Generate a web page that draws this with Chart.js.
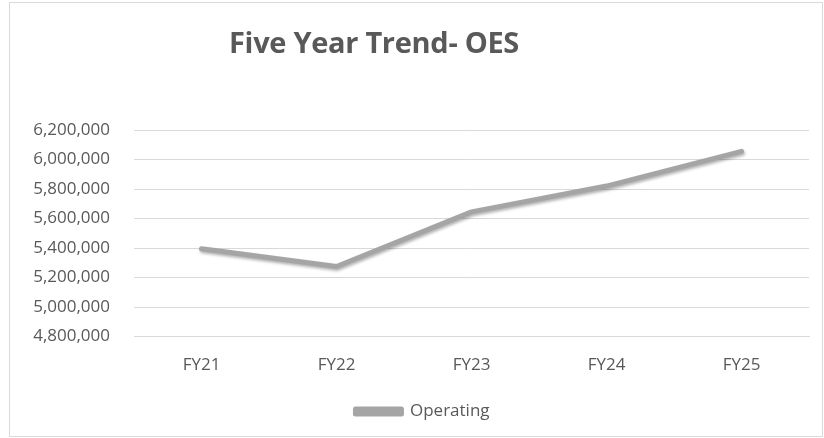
<!DOCTYPE html>
<html>
<head>
<meta charset="utf-8">
<script src="https://cdn.jsdelivr.net/npm/chart.js@4/dist/chart.umd.min.js"></script>
<style>
  html, body { margin: 0; padding: 0; background: #ffffff; }
  #wrap { position: relative; width: 824px; height: 438px; }
  #title {
    position: absolute; left: 229px; top: 22px;
    font-family: "Open Sans", "Liberation Sans", sans-serif;
    font-weight: bold; font-size: 29px; letter-spacing: -0.3px;
    color: #595959; white-space: nowrap;
  }
  canvas { position: absolute; left: 0; top: 0; }
</style>
</head>
<body>
<div id="wrap">
  <canvas id="chart" width="824" height="438"></canvas>
  <div id="title">Five Year Trend- OES</div>
</div>
<script>
// Fiscal years on the category axis
const years = ['FY21', 'FY22', 'FY23', 'FY24', 'FY25'];
// Operating totals per fiscal year
const operating = [5395000, 5275000, 5645000, 5820000, 6055000];
// Value-axis range and step
const yMin = 4800000;
const yMax = 6200000;
const yStep = 200000;

const textColor = '#595959';
const gridColor = '#d9d9d9';
const lineColor = '#a5a5a5';
const fontFamily = '"Open Sans", "Liberation Sans", sans-serif';

// Outer frame around the whole chart
const framePlugin = {
  id: 'frame',
  beforeDraw(chart) {
    const ctx = chart.ctx;
    ctx.save();
    ctx.fillStyle = '#ffffff';
    ctx.fillRect(0, 0, chart.width, chart.height);
    ctx.strokeStyle = gridColor;
    ctx.lineWidth = 1;
    ctx.strokeRect(9.5, 2.5, 813, 434);
    ctx.restore();
  }
};

// Nudge the legend row slightly right of the canvas centre
const legendShiftPlugin = {
  id: 'legendShift',
  afterLayout(chart) {
    const lg = chart.legend;
    if (lg) { lg.left += 13; lg.right += 13; }
  }
};

// Soft drop shadow under the series line
const shadowPlugin = {
  id: 'lineShadow',
  beforeDatasetDraw(chart) {
    const ctx = chart.ctx;
    ctx.save();
    ctx.shadowColor = 'rgba(0,0,0,0.3)';
    ctx.shadowBlur = 3;
    ctx.shadowOffsetX = 1;
    ctx.shadowOffsetY = 2;
  },
  afterDatasetDraw(chart) {
    chart.ctx.restore();
  }
};

new Chart(document.getElementById('chart'), {
  type: 'line',
  data: {
    labels: years,
    datasets: [{
      label: 'Operating',
      data: operating,
      borderColor: lineColor,
      backgroundColor: lineColor,
      borderWidth: 5,
      borderCapStyle: 'round',
      borderJoinStyle: 'round',
      pointRadius: 0,
      pointHoverRadius: 0,
      tension: 0,
      fill: false
    }]
  },
  options: {
    responsive: false,
    animation: false,
    events: [],
    layout: { padding: { left: 10, right: 15, top: 130, bottom: 8 } },
    plugins: {
      title: { display: false },
      tooltip: { enabled: false },
      legend: {
        display: true,
        position: 'bottom',
        labels: {
          color: textColor,
          font: { family: fontFamily, size: 17 },
          boxWidth: 46,
          boxHeight: 5,
          padding: 10
        }
      }
    },
    scales: {
      x: {
        offset: true,
        grid: { display: false, drawTicks: false },
        border: { display: true, color: gridColor, width: 1 },
        ticks: { color: textColor, font: { family: fontFamily, size: 17 }, padding: 18 }
      },
      y: {
        min: yMin,
        max: yMax,
        grid: { color: gridColor, lineWidth: 1, drawTicks: false },
        border: { display: false },
        ticks: {
          stepSize: yStep,
          color: textColor,
          font: { family: fontFamily, size: 17 },
          padding: 24,
          callback: (v) => Number(v).toLocaleString('en-US')
        },
        afterFit(scale) { scale.width = 124; }
      }
    }
  },
  plugins: [framePlugin, legendShiftPlugin, shadowPlugin]
});
</script>
</body>
</html>
